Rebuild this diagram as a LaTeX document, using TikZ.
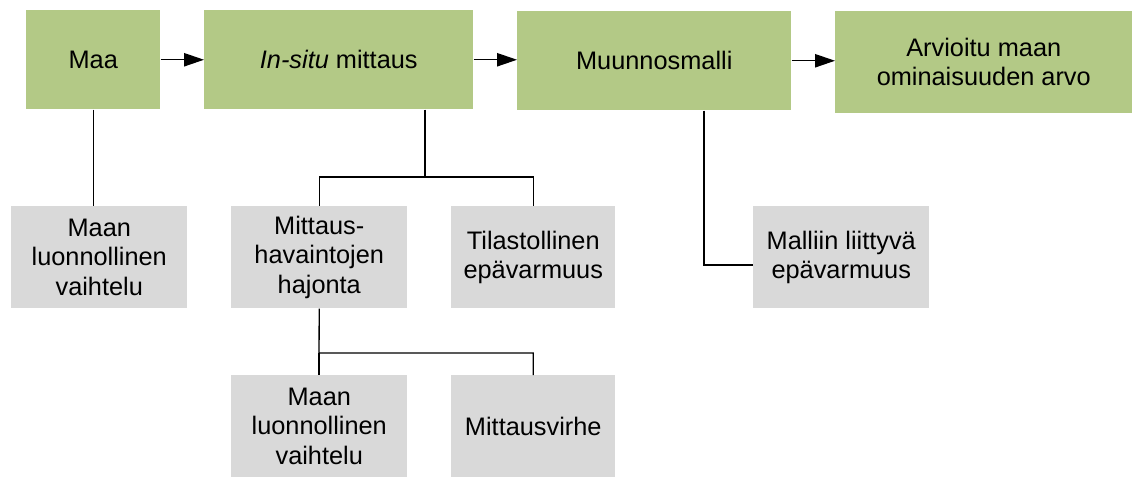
\documentclass[tikz,border=0pt]{standalone}
\usepackage{fontspec}
\setmainfont{Liberation Sans}
\usetikzlibrary{arrows.meta}
\definecolor{boxgreen}{HTML}{B3C986}
\definecolor{boxgray}{HTML}{D9D9D9}
\def\pxu{0.75pt}
\tikzset{
  box/.style={rectangle, inner sep=0pt, align=center, anchor=north west,
    font=\fontsize{19}{22}\selectfont},
  greenbox/.style={box, fill=boxgreen},
  graybox/.style={box, fill=boxgray},
  conn/.style={draw=black, line width=1pt},
  arr/.style={conn, -{Triangle[length=15pt,width=10pt]}}
}
\begin{document}
\begin{tikzpicture}[x=0.75pt, y=-0.75pt]
\useasboundingbox (0,0) rectangle (1138,477);
% green boxes
\node[greenbox, minimum width=134*\pxu, minimum height=99*\pxu] (maa) at (26,10) {Maa};
\node[greenbox, minimum width=269*\pxu, minimum height=99*\pxu] (insitu) at (204,10) {\textit{In-situ} mittaus};
\node[greenbox, minimum width=274*\pxu, minimum height=99*\pxu] (muunnos) at (517,11) {Muunnosmalli};
\node[greenbox, minimum width=297*\pxu, minimum height=102*\pxu] (arvio) at (835,11) {Arvioitu maan\\ominaisuuden arvo};
% gray boxes
\node[graybox, minimum width=176*\pxu, minimum height=102*\pxu] (luon1) at (11,206) {Maan\\luonnollinen\\vaihtelu};
\node[graybox, minimum width=176*\pxu, minimum height=102*\pxu] (hajonta) at (231,206) {Mittaus-\\havaintojen\\hajonta};
\node[graybox, minimum width=164*\pxu, minimum height=102*\pxu] (tilasto) at (451,206) {Tilastollinen\\epävarmuus};
\node[graybox, minimum width=176*\pxu, minimum height=102*\pxu] (malli) at (753,206) {Malliin liittyvä\\epävarmuus};
\node[graybox, minimum width=176*\pxu, minimum height=102*\pxu] (luon2) at (231,375) {Maan\\luonnollinen\\vaihtelu};
\node[graybox, minimum width=164*\pxu, minimum height=102*\pxu] (virhe) at (451,375) {Mittausvirhe};
% arrows
\draw[arr] (maa.east) -- (maa.east -| insitu.west);
\draw[arr] (insitu.east) -- (insitu.east -| muunnos.west);
\draw[arr] (muunnos.east) -- (muunnos.east -| arvio.west);
% tree connectors
\draw[conn] (maa.south) -- (maa.south |- luon1.north);
\coordinate (ib) at (425,177);
\draw[conn] (insitu.south -| ib) -- (ib) -| (hajonta.north);
\draw[conn] (ib) -| (tilasto.north);
\coordinate (hb) at (319,353);
\draw[conn] (hajonta.south) -- (hb) -| (virhe.north);
\draw[conn] (hb) -- (hb |- luon2.north);
\coordinate (mb) at (704,265);
\draw[conn] (muunnos.south -| mb) -- (mb) -- (mb -| malli.west);
\end{tikzpicture}
\end{document}
